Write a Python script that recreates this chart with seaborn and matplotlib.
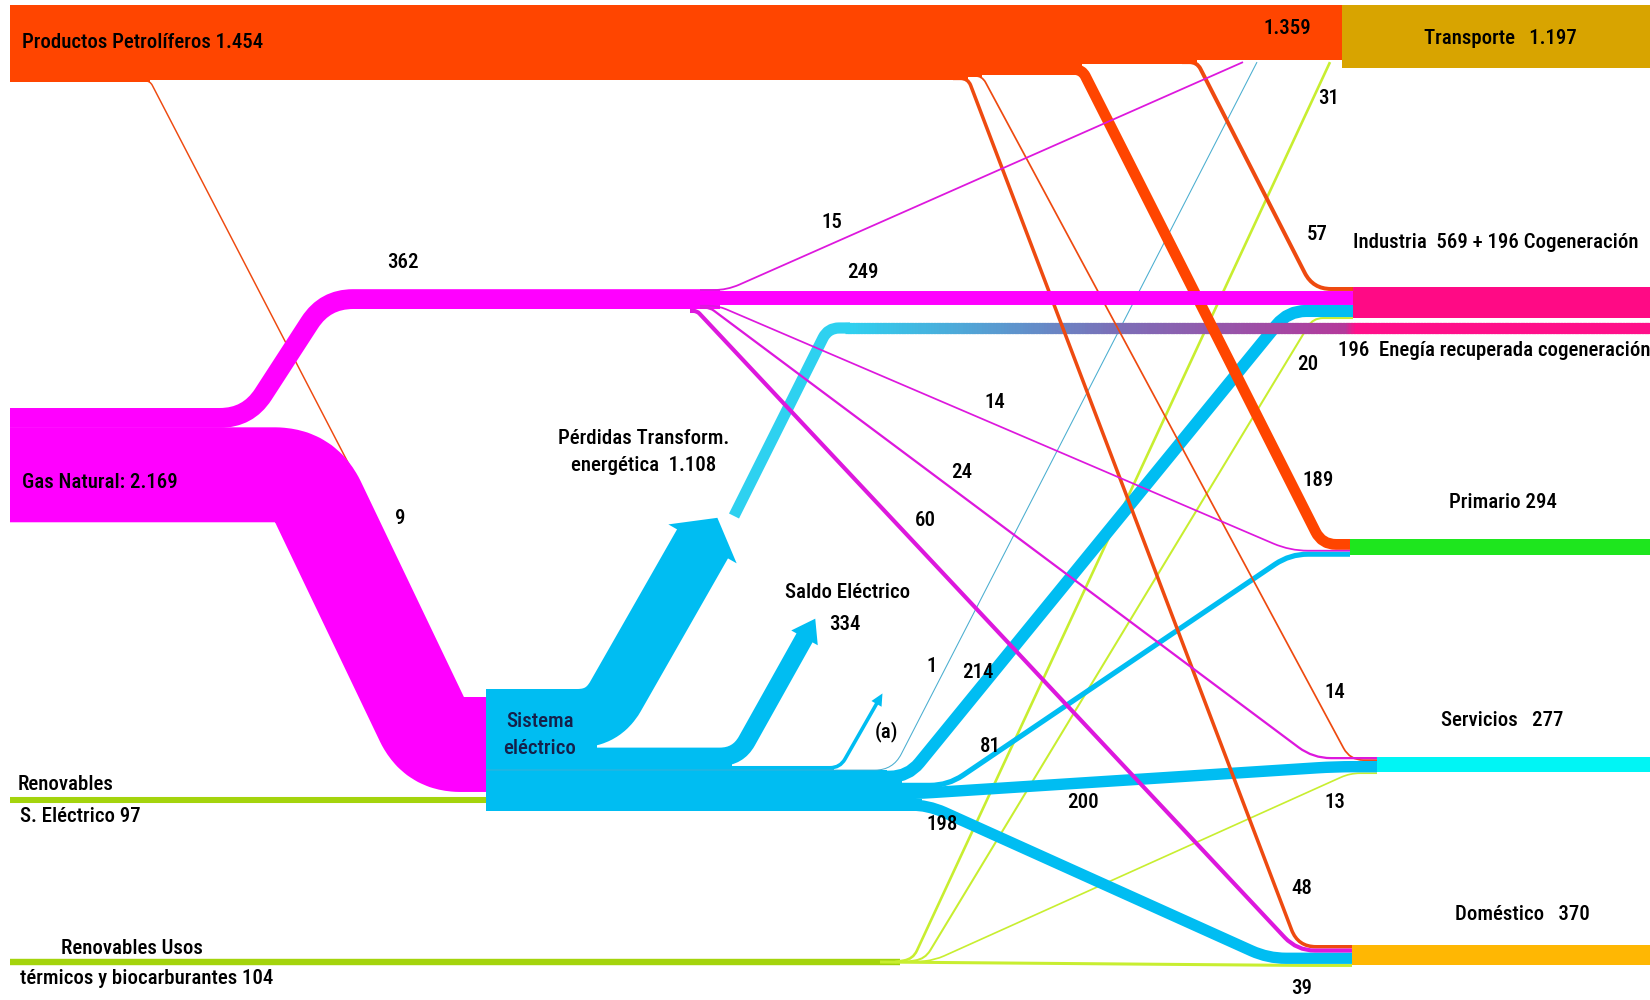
import numpy as np
import matplotlib
matplotlib.use("Agg")
import matplotlib.pyplot as plt
from matplotlib import font_manager
from matplotlib.path import Path
from matplotlib.patches import PathPatch, Polygon
from matplotlib.collections import LineCollection
from matplotlib.colors import LinearSegmentedColormap
import seaborn as sns

# --- data (ktep) ---
petro_total = 1454
gas_total = 2169
ren_elec_total = 97
ren_term_total = 104
gas_branch = 362                      # gas to final uses
sector_names = ["Transporte", "Industria", "Primario", "Servicios", "Doméstico"]
sector_values = [1197, 569, 294, 277, 370]
cogen_value = 196

# petroleum -> S. eléctrico, Doméstico, Servicios, Primario, Industria (order they leave the bar)
petro_out = [9, 48, 14, 189, 57]
petro_transport = 1359
# gas branch -> Transporte, Industria, Primario, Servicios, Doméstico
gas_out = [15, 249, 14, 24, 60]
# electric system -> Pérdidas, Saldo, (a), Transporte, Industria, Primario, Servicios, Doméstico
elec_out = [1108, 334, 50, 1, 214, 81, 200, 198]   # (a) has no printed value, estimated from width
# renewables thermal -> Transporte, Industria, Servicios, Doméstico
ren_out = [31, 20, 13, 39]

sns.set_theme(style="white")
avail = {f.name for f in font_manager.fontManager.ttflist}
if "Liberation Sans Narrow" in avail:
    fam, FS = "Liberation Sans Narrow", 16
elif "Roboto Condensed" in avail:
    fam, FS = "Roboto Condensed", 15
else:
    fam, FS = "Liberation Sans", 14
plt.rcParams["font.family"] = [fam, "DejaVu Sans"]

C_PET, C_PET_T = "#ff4500", "#ee4a10"
C_GAS, C_GAS_T = "#ff00ff", "#dd18dd"
C_ELE = "#00bdf2"
C_REN, C_REN_T = "#a4d40c", "#c8ee30"
C_SECT = ["#d8a400", "#ff0a85", "#1ee61e", "#00f5f5", "#ffb703"]

K, B = 0.052, 1.0
def w(v):
    return K * v + B

PX = 72 / 100

fig = plt.figure(figsize=(16.5, 10), dpi=100)
ax = fig.add_axes([0, 0, 1, 1])
ax.set_xlim(0, 1650)
ax.set_ylim(1000, 0)
ax.axis("off")


def rpath(pts, r):
    pts = [np.asarray(p, float) for p in pts]
    verts, codes = [pts[0]], [Path.MOVETO]
    for i in range(1, len(pts) - 1):
        p, a, b = pts[i], pts[i - 1], pts[i + 1]
        da, db = a - p, b - p
        la, lb = np.hypot(*da), np.hypot(*db)
        rr = min(r, la / 2, lb / 2)
        verts += [p + da / la * rr, p, p + db / lb * rr]
        codes += [Path.LINETO, Path.CURVE3, Path.CURVE3]
    verts.append(pts[-1])
    codes.append(Path.LINETO)
    return Path(verts, codes)


def ribbon(pts, v, color, r=18, z=2):
    ax.add_patch(PathPatch(rpath(pts, r), fc="none", ec=color, lw=w(v) * PX,
                           capstyle="butt", joinstyle="round", zorder=z))


def head(p0, p1, v, color, extra, length, z=2):
    d = np.subtract(p1, p0).astype(float)
    d /= np.hypot(*d)
    n = np.array([-d[1], d[0]])
    half = w(v) / 2 + extra
    e = np.asarray(p1, float) - d * 1.0
    ax.add_patch(Polygon([e + n * half, e - n * half, e + d * length],
                         closed=True, fc=color, ec="none", zorder=z))


def stack(top, vals):
    out = []
    for v in vals:
        out.append(top + w(v) / 2)
        top += w(v)
    return out


# right-hand sector bars: left x, top y
sect_x = [1342, 1353, 1350, 1377, 1352]
sect_top = [5, 287, 539, 757, 945]
y_ind = stack(287, [57, 249, 214, 20])
y_pri = stack(539, [189, 14, 81])
y_ser = stack(757, [24, 14, 200, 13])
y_dom = stack(945, [48, 60, 198, 39])

for name, v, x, t, c in zip(sector_names, sector_values, sect_x, sect_top, C_SECT):
    ax.barh(t + w(v) / 2, 1650 - x, left=x, height=w(v), color=c, zorder=5, linewidth=0)

# --- petroleum bar (narrows as flows leave) ---
dep_x = [150, 968, 982, 1082, 1197]
bottom = 5 + w(petro_total)
outline = [(10, bottom)]
starts = []
for x, v in zip(dep_x, petro_out):
    starts.append((x, bottom - w(v) / 2))
    outline += [(x, bottom), (x, bottom - w(v))]
    bottom -= w(v)
outline.append((1342, bottom))
ax.add_patch(Polygon([(10, 5), (1342, 5)] + outline[::-1], closed=True,
                     fc=C_PET, ec="none", zorder=5))
bar_bottom = bottom

(sx9, sy9), (sx48, sy48), (sx14, sy14), (sx189, sy189), (sx57, sy57) = starts
ribbon([(sx9 - 10, sy9), (sx9, sy9), (370, 505)], petro_out[0], C_PET_T, z=3)
ribbon([(sx48 - 15, sy48), (sx48, sy48), (1298, y_dom[0]), (1352, y_dom[0])], petro_out[1], C_PET_T, z=3)
ribbon([(sx14 - 15, sy14), (sx14, sy14), (1350, y_ser[1]), (1377, y_ser[1])], petro_out[2], C_PET_T, z=3)
ribbon([(sx189 - 15, sy189), (sx189, sy189), (1322, y_pri[0]), (1350, y_pri[0])], petro_out[3], C_PET, z=3)
ribbon([(sx57 - 15, sy57), (sx57, sy57), (1313, y_ind[0]), (1353, y_ind[0])], petro_out[4], C_PET_T, z=3)

# --- gas ---
g_top = 408
g_branch_y = g_top + w(gas_branch) / 2
g_main = gas_total - gas_branch
g_main_y = g_top + w(gas_branch) + w(g_main) / 2 - 0.5
e_top = 689
ribbon([(10, g_main_y), (305, g_main_y), (434, e_top + w(g_main) / 2 + 8), (486, e_top + w(g_main) / 2 + 8)],
       g_main, C_GAS, r=30, z=4)
fan_top = y_ind[1] - w(gas_out[1]) / 2 - w(gas_out[0])
ribbon([(10, g_branch_y), (248, g_branch_y), (325, fan_top + w(gas_branch) / 2),
        (720, fan_top + w(gas_branch) / 2)], gas_branch, C_GAS, r=28, z=4)
fy = stack(fan_top, gas_out)
ribbon([(700, fy[0]), (727, fy[0]), (1243, bar_bottom + 2)], gas_out[0], C_GAS_T, z=4)
ribbon([(700, fy[1]), (1353, fy[1])], gas_out[1], C_GAS, z=4)
ribbon([(700, fy[2]), (718, fy[2]), (1290, y_pri[1]), (1350, y_pri[1])], gas_out[2], C_GAS_T, z=4)
ribbon([(700, fy[3]), (710, fy[3]), (1313, y_ser[0]), (1377, y_ser[0])], gas_out[3], C_GAS_T, z=4)
ribbon([(690, fy[4]), (697, fy[4]), (1297, y_dom[1]), (1352, y_dom[1])], gas_out[4], C_GAS_T, z=4)

# --- electric system ---
ey = stack(e_top, elec_out)
turn_x = [603, 738, 840, 893, 908, 948, 915, 928]
trunk = [(486, e_top)]
top = e_top
for tx, v in zip(turn_x, elec_out):
    trunk += [(tx - 6, top), (tx - 6, top + w(v))]
    top += w(v)
trunk.append((486, top))
ax.add_patch(Polygon(trunk, closed=True, fc=C_ELE, ec="none", zorder=1.9))

ribbon([(486, ey[0]), (turn_x[0], ey[0]), (703, 543)], elec_out[0], C_ELE, r=25)
head((turn_x[0], ey[0]), (703, 543), elec_out[0], C_ELE, 10, 30)
ribbon([(486, ey[1]), (turn_x[1], ey[1]), (805, 637)], elec_out[1], C_ELE)
head((turn_x[1], ey[1]), (805, 637), elec_out[1], C_ELE, 6, 22)
ribbon([(486, ey[2]), (turn_x[2], ey[2]), (877, 703)], elec_out[2], C_ELE, r=10)
head((turn_x[2], ey[2]), (877, 703), elec_out[2], C_ELE, 4, 12)
ribbon([(486, ey[3]), (turn_x[3], ey[3]), (1257, bar_bottom + 2)], elec_out[3], "#4aaed0")
ribbon([(486, ey[4]), (turn_x[4], ey[4]), (1288, y_ind[2]), (1353, y_ind[2])], elec_out[4], C_ELE)
ribbon([(486, ey[5]), (turn_x[5], ey[5]), (1290, y_pri[2]), (1350, y_pri[2])], elec_out[5], C_ELE)
ribbon([(486, ey[6]), (turn_x[6], ey[6]), (1335, y_ser[2]), (1377, y_ser[2])], elec_out[6], C_ELE)
ribbon([(486, ey[7]), (turn_x[7], ey[7]), (1268, y_dom[2]), (1352, y_dom[2])], elec_out[7], C_ELE)

# recovered cogeneration energy (cyan -> purple -> pink)
cog_y = 328
ribbon([(734, 516), (828, cog_y), (850, cog_y)], cogen_value, "#2ed1f0", r=12)
xs = np.linspace(845, 1650, 300)
segs = [[(a, cog_y), (b, cog_y)] for a, b in zip(xs[:-1], xs[1:] + 1)]
cmap = LinearSegmentedColormap.from_list(
    "cog", [(0, "#2ed1f0"), (0.33, "#7a70b8"), (0.62, "#b4399b"), (0.635, "#ff108a"), (1, "#ff108a")])
ax.add_collection(LineCollection(segs, colors=cmap(np.linspace(0, 1, len(segs))),
                                 linewidths=w(cogen_value) * PX, capstyle="butt", zorder=2))

# --- renewables ---
ribbon([(10, 800), (486, 800)], ren_elec_total, C_REN, z=1)
ribbon([(10, 962), (900, 962)], ren_term_total, C_REN, z=1)
ribbon([(895, 962), (913, 959), (1330, bar_bottom + 2)], ren_out[0], C_REN_T, r=10, z=1)
ribbon([(905, 962), (925, 959), (1313, y_ind[3]), (1353, y_ind[3])], ren_out[1], C_REN_T, r=10, z=1)
ribbon([(915, 962), (935, 960), (1350, y_ser[3]), (1377, y_ser[3])], ren_out[2], C_REN_T, r=10, z=1)
ribbon([(880, 962), (1300, y_dom[3]), (1352, y_dom[3])], ren_out[3], C_REN_T, z=1)

# --- labels ---
def lab(x, y, s, ha="center", color="black"):
    ax.text(x, y, s, ha=ha, va="center", fontsize=FS, color=color, zorder=6,
            linespacing=1.5, fontweight="medium")

lab(22, 43, f"Productos Petrolíferos {petro_total/1000:.3f}", ha="left")
lab(1287, 28, f"{petro_transport/1000:.3f}")
lab(1500, 38, f"Transporte   {sector_values[0]/1000:.3f}")
lab(22, 483, f"Gas Natural: {gas_total/1000:.3f}", ha="left")
lab(540, 735, "Sistema\neléctrico", color="#15204a")
lab(644, 452, f"Pérdidas Transform.\nenergética  {elec_out[0]/1000:.3f}")
lab(848, 592, "Saldo Eléctrico")
lab(845, 625, str(elec_out[1]))
lab(887, 732, "(a)")
lab(66, 784, "Renovables")
lab(20, 817, f"S. Eléctrico {ren_elec_total}", ha="left")
lab(132, 948, "Renovables Usos")
lab(20, 978, f"térmicos y biocarburantes {ren_term_total}", ha="left")
lab(1496, 243, f"Industria  {sector_values[1]} + {cogen_value} Cogeneración")
lab(1338, 350, f"{cogen_value}  Enegía recuperada cogeneración", ha="left")
lab(1503, 502, f"Primario {sector_values[2]}")
lab(1502, 720, f"Servicios   {sector_values[3]}")
lab(1522, 915, f"Doméstico   {sector_values[4]}")

num_labels = [
    (403, 263, gas_branch), (400, 519, petro_out[0]), (832, 222, gas_out[0]), (863, 272, gas_out[1]),
    (995, 402, gas_out[2]), (962, 473, gas_out[3]), (925, 520, gas_out[4]),
    (932, 667, elec_out[3]), (978, 673, elec_out[4]), (990, 747, elec_out[5]),
    (1083, 803, elec_out[6]), (942, 825, elec_out[7]),
    (1329, 98, ren_out[0]), (1317, 235, petro_out[4]), (1308, 365, ren_out[1]),
    (1318, 480, petro_out[3]), (1335, 692, petro_out[2]), (1335, 803, ren_out[2]),
    (1302, 888, petro_out[1]), (1302, 988, ren_out[3]),
]
for x, y, v in num_labels:
    lab(x, y, str(v))

fig.savefig("out.png", dpi=100)
